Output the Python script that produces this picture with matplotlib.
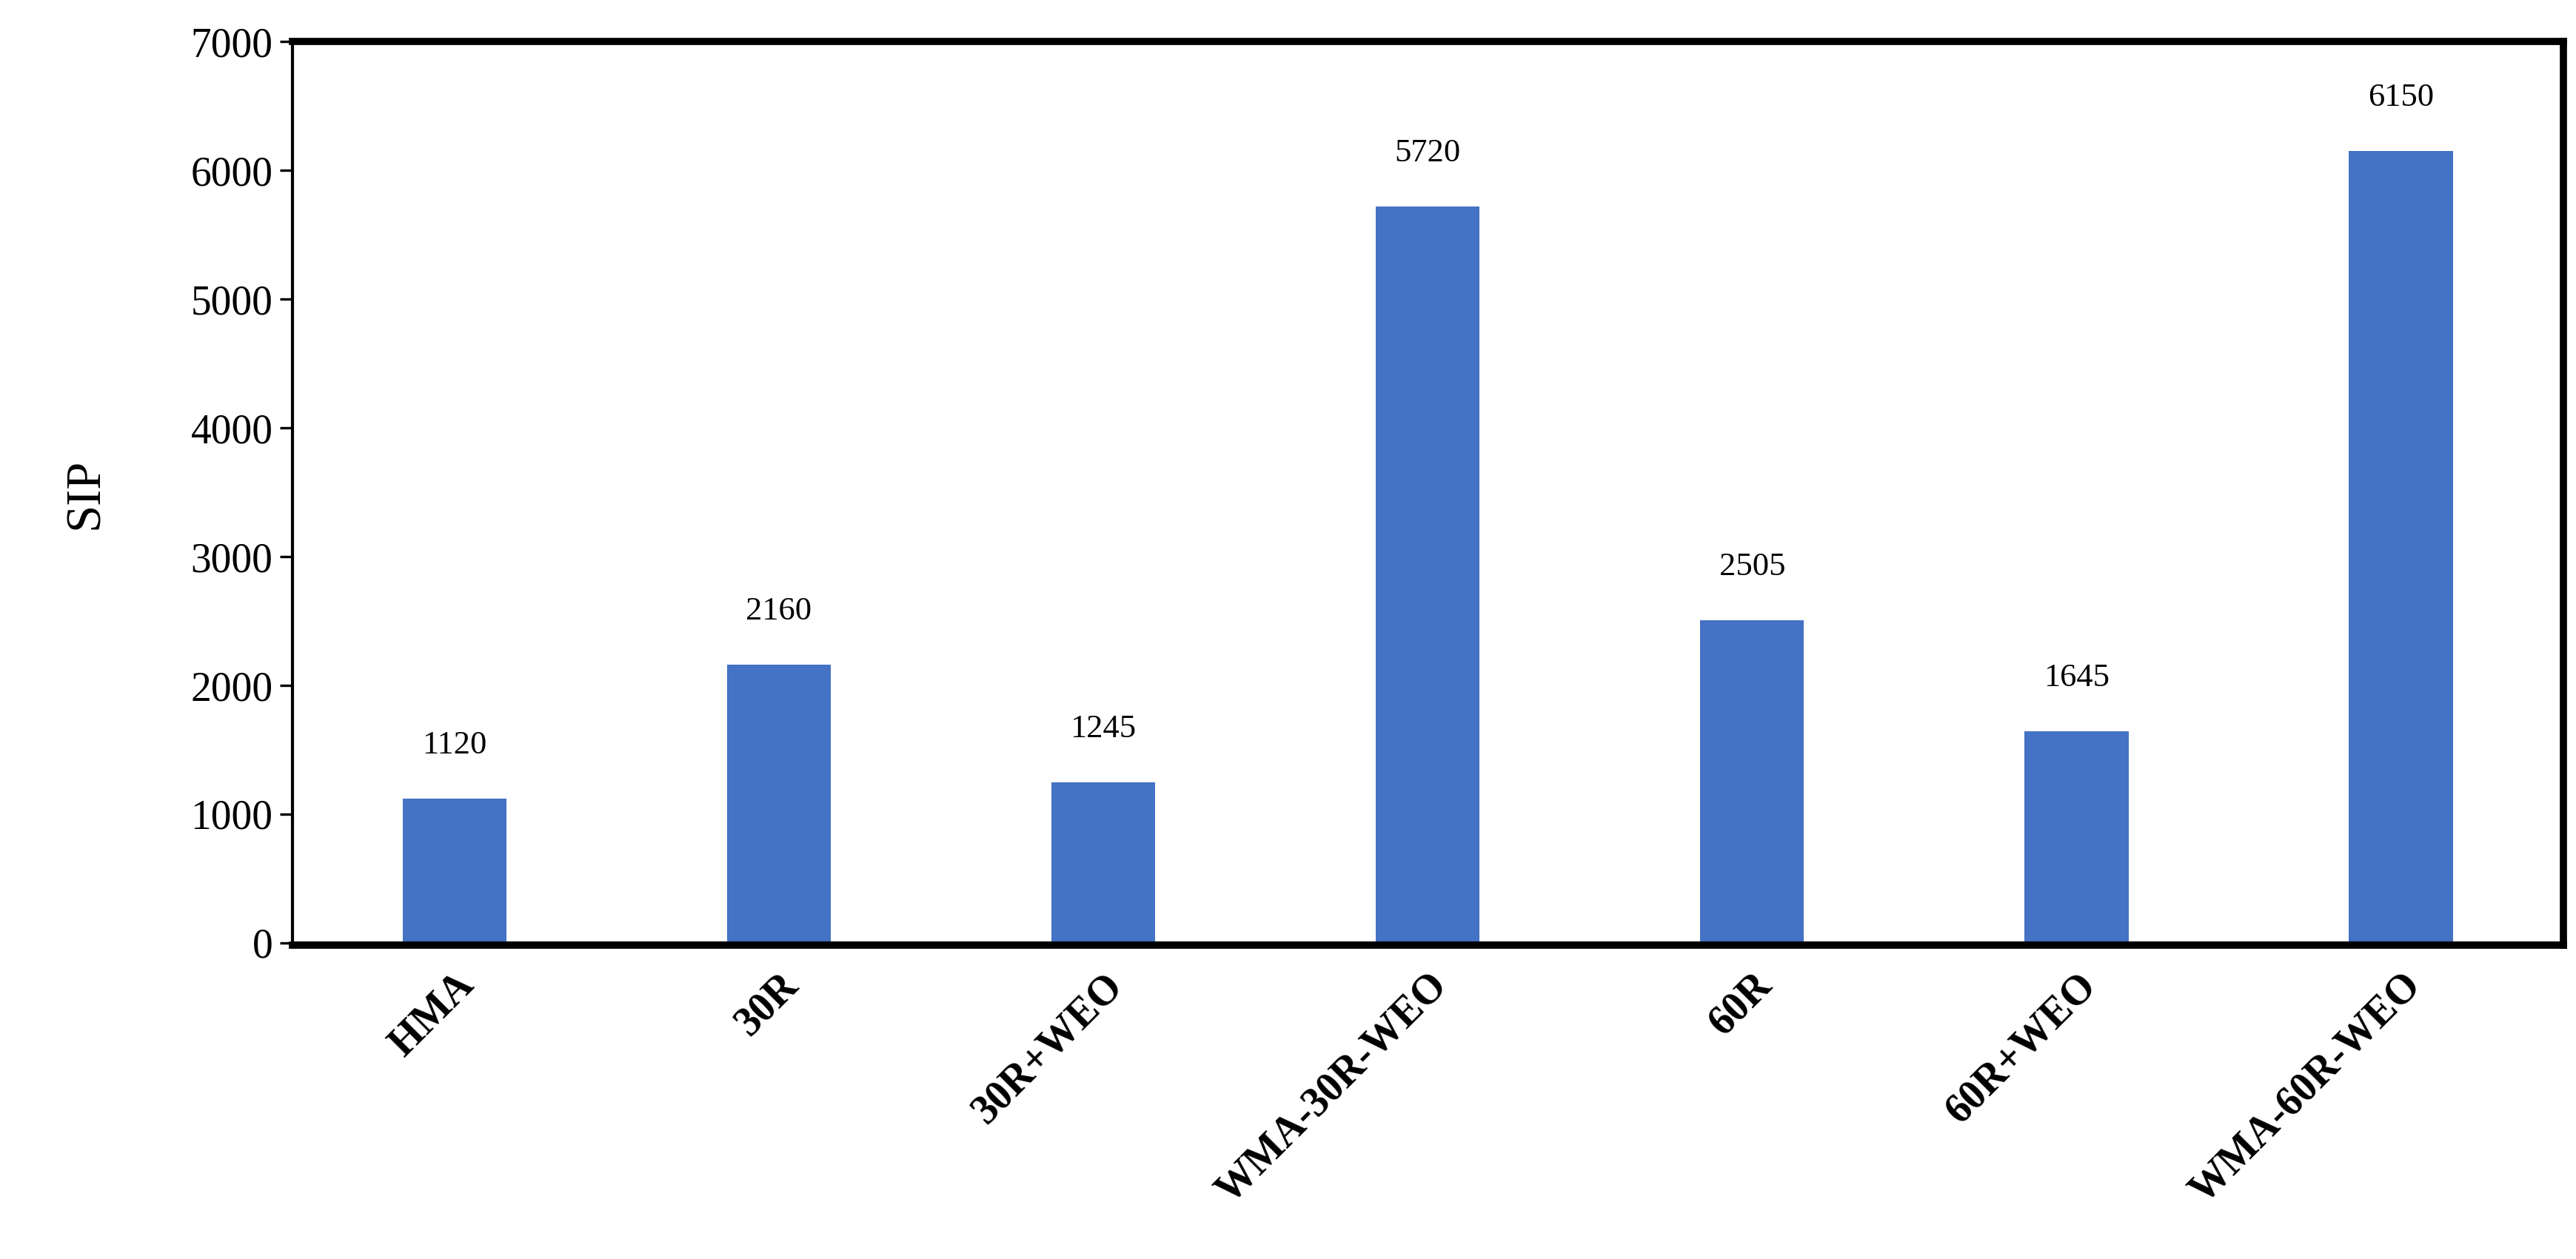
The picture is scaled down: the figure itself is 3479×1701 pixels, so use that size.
import matplotlib
matplotlib.use('Agg')
import matplotlib.pyplot as plt

categories = ['HMA', '30R', '30R+WEO', 'WMA-30R-WEO', '60R', '60R+WEO', 'WMA-60R-WEO']
sip_values = [1120, 2160, 1245, 5720, 2505, 1645, 6150]

plt.rcParams['font.family'] = ['Liberation Serif', 'DejaVu Serif']

fig = plt.figure(figsize=(17.395, 8.505), dpi=200)
ax = fig.add_axes([0.1135, 0.249, 0.8815, 0.718])

x = range(len(categories))
ax.bar(x, sip_values, width=0.32, color='#4472C4', zorder=2)
for xi, v in zip(x, sip_values):
    ax.text(xi, v + 300, str(v), ha='center', va='bottom', fontsize=16)

ax.set_xlim(-0.5, len(categories) - 0.5)
ax.set_ylim(-20, 7000)
ax.set_yticks(range(0, 7001, 1000))
ax.tick_params(axis='y', labelsize=20, direction='out', length=6, width=1.2)
ax.tick_params(axis='x', length=0, pad=10)
ax.set_xticks(list(x))
ax.set_xticklabels(categories, rotation=45, ha='right', rotation_mode='anchor',
                   fontsize=20, fontweight='bold')
ax.axhline(0, color='black', linewidth=1.5, zorder=3)
ax.set_ylabel('SIP', fontsize=24, labelpad=40)

for side in ['top', 'right', 'bottom']:
    ax.spines[side].set_linewidth(3.5)
ax.spines['left'].set_linewidth(1.5)

fig.savefig('out.png', dpi=200, facecolor='white')
